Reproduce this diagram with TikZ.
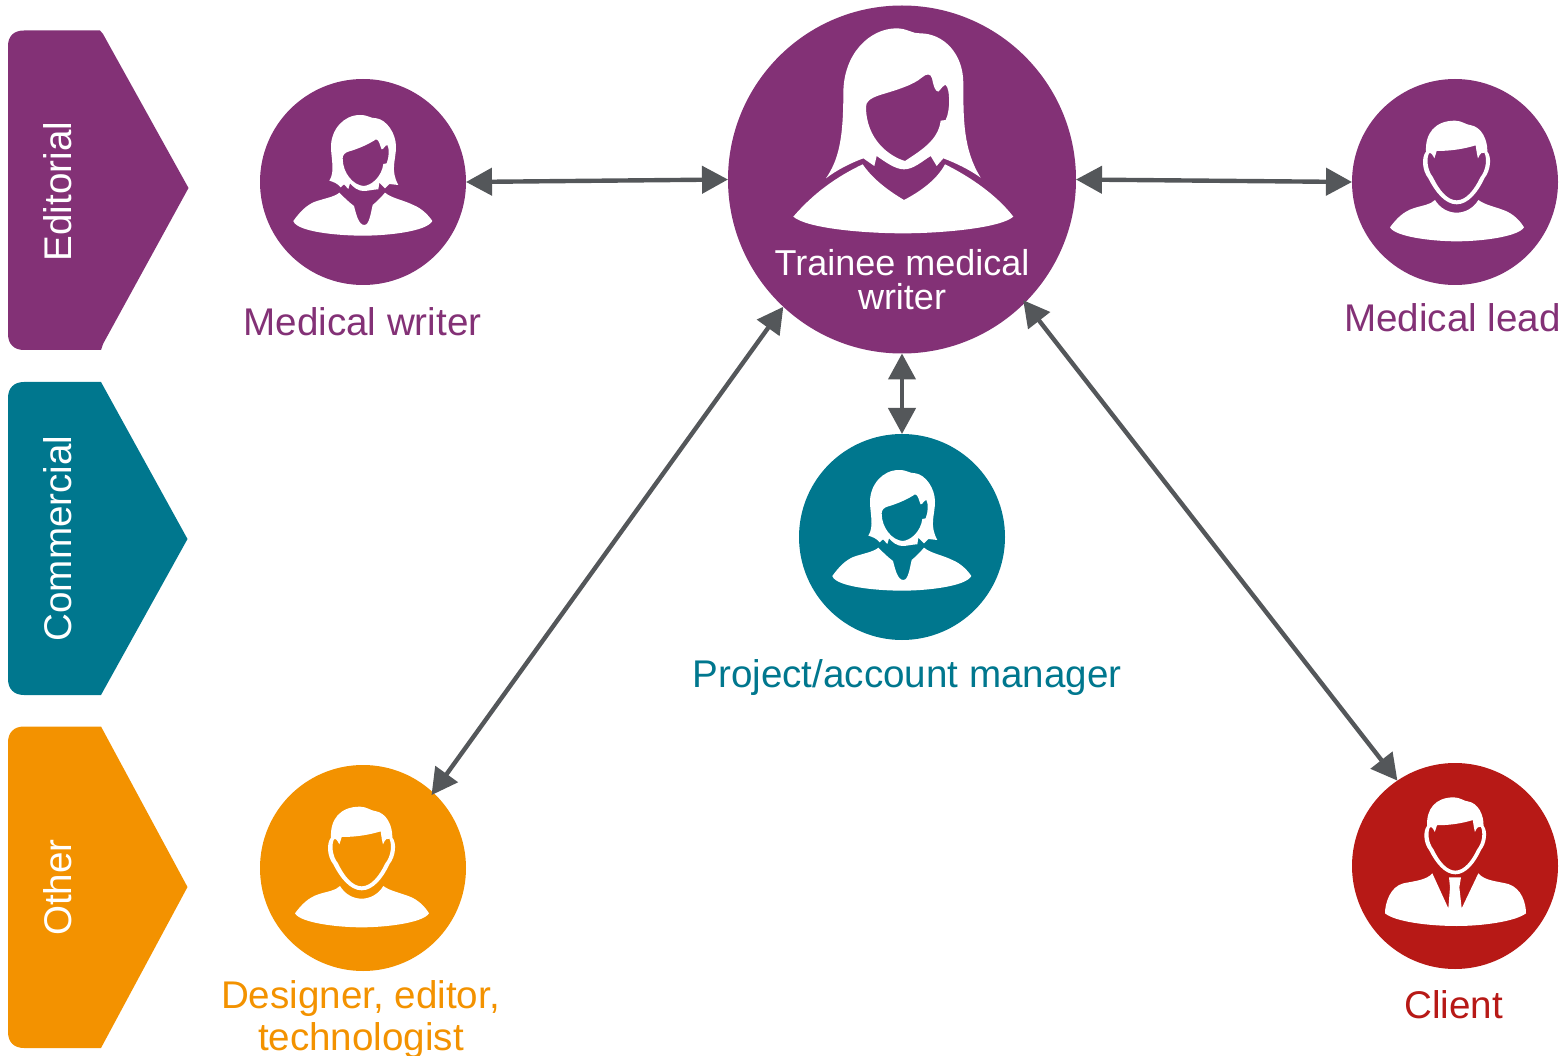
\documentclass[tikz,border=0pt]{standalone}
\usepackage{fontspec}
\setmainfont{Liberation Sans}
\usetikzlibrary{arrows.meta}
\definecolor{cpurple}{HTML}{833176}
\definecolor{cteal}{HTML}{00778E}
\definecolor{corange}{HTML}{F39200}
\definecolor{cred}{HTML}{B71916}
\definecolor{cgray}{HTML}{54575A}
\tikzset{
  person/.style={circle,inner sep=0pt,outer sep=0pt,minimum size=206pt,fill=#1},
  lab/.style={anchor=base,inner sep=0pt,outer sep=0pt,text=#1,font=\fontsize{38.6}{38.6}\selectfont},
  side/.style={anchor=base,rotate=90,inner sep=0pt,outer sep=0pt,text=white,font=\fontsize{38.6}{38.6}\selectfont},
  link/.style={cgray,line width=4.4pt,{Triangle[length=26pt,width=27pt]}-{Triangle[length=26pt,width=27pt]}},
  icon/.style={fill=white,even odd rule}
}
% woman with shoulder-length hair, coordinates of a 3x crop
\newcommand{\womansmall}{%
  \fill[icon] (178,272) .. controls (196,245) and (183,205) .. (183,170)
    .. controls (183,120) and (220,75) .. (270,75)
    .. controls (295,75) and (300,85) .. (320,85)
    .. controls (350,90) and (378,130) .. (378,170)
    .. controls (378,210) and (360,240) .. (385,285)
    -- (358,282) -- (345,295) -- (328,278) -- (325,298)
    .. controls (310,298) and (295,303) .. (280,303)
    .. controls (265,303) and (250,292) .. (240,280)
    -- (235,297) -- (222,283) -- (212,292) .. controls (205,282) and (190,275) .. (178,272) -- cycle
    (218,205) .. controls (218,195) and (225,188) .. (235,185)
    .. controls (270,175) and (300,160) .. (318,148)
    .. controls (328,148) and (330,170) .. (335,178)
    .. controls (340,180) and (345,165) .. (352,165)
    .. controls (358,175) and (358,200) .. (350,220)
    -- (340,222)
    .. controls (335,260) and (305,287) .. (280,288)
    .. controls (250,285) and (218,250) .. (218,205) -- cycle;
  \fill[icon] (70,393) .. controls (90,365) and (110,345) .. (135,335)
    .. controls (165,325) and (195,320) .. (208,308)
    .. controls (225,325) and (235,335) .. (252,348)
    .. controls (258,370) and (265,405) .. (283,405)
    .. controls (298,405) and (302,370) .. (308,345)
    .. controls (320,335) and (335,320) .. (345,308)
    .. controls (365,325) and (400,330) .. (430,345)
    .. controls (455,355) and (475,375) .. (487,393)
    .. controls (470,425) and (350,437) .. (280,437)
    .. controls (200,437) and (80,425) .. (70,393) -- cycle;
}
\newcommand{\manhead}{%
  \fill[icon] (183,185) .. controls (180,130) and (210,92) .. (270,92)
    .. controls (290,92) and (305,105) .. (315,105)
    .. controls (350,110) and (368,150) .. (367,185)
    .. controls (380,200) and (378,240) .. (358,265)
    .. controls (340,305) and (310,343) .. (275,343)
    .. controls (240,343) and (210,305) .. (190,265)
    .. controls (170,240) and (170,200) .. (183,185) -- cycle
    (215,183) .. controls (260,183) and (300,176) .. (332,166)
    .. controls (334,180) and (336,195) .. (339,205)
    .. controls (345,190) and (352,185) .. (358,188)
    .. controls (367,205) and (364,240) .. (346,262)
    .. controls (328,300) and (303,331) .. (275,331)
    .. controls (247,331) and (222,300) .. (204,262)
    .. controls (186,240) and (184,205) .. (192,190)
    .. controls (198,186) and (203,195) .. (208,205)
    .. controls (211,197) and (213,190) .. (215,183) -- cycle;
}
\newcommand{\manbody}{%
  \fill[icon] (75,412) .. controls (95,385) and (115,365) .. (145,355)
    .. controls (175,345) and (195,345) .. (210,330)
    .. controls (225,355) and (250,368) .. (275,368)
    .. controls (300,368) and (325,355) .. (340,330)
    .. controls (360,345) and (390,350) .. (420,362)
    .. controls (445,372) and (465,392) .. (477,412)
    .. controls (460,440) and (350,454) .. (275,454)
    .. controls (200,454) and (90,440) .. (75,412) -- cycle;
}
\begin{document}
\begin{tikzpicture}[x=1pt,y=-1pt]
\useasboundingbox (0,0) rectangle (1561,1056);
% side chevrons
\fill[cpurple] (100,30.5) -- (103,34) -- (188.5,188) -- (103,344) -- (101,350) -- (24,350)
   .. controls (14,350) and (8,344) .. (8,334) -- (8,46)
   .. controls (8,36) and (14,30.5) .. (24,30.5) -- cycle;
\fill[cteal] (101,382) -- (187.5,539) -- (101,695) -- (24,695)
   .. controls (14,695) and (8,689) .. (8,679) -- (8,398)
   .. controls (8,388) and (14,382) .. (24,382) -- cycle;
\fill[corange] (101,726.5) -- (187.5,887) -- (101,1048) -- (24,1048)
   .. controls (14,1048) and (8,1042) .. (8,1032) -- (8,742.5)
   .. controls (8,732.5) and (14,726.5) .. (24,726.5) -- cycle;
\node[side] (seditorial) at (71,191.5) {Editorial};
\node[side] (scommercial) at (71,538.5) {Commercial};
\node[side] (sother) at (71,887.5) {Other};
% circles
\node[person=cpurple,minimum size=348pt] (main) at (902,179.5) {};
\node[person=cpurple] (writer) at (363,182) {};
\node[person=cpurple] (lead) at (1455,182) {};
\node[person=cteal] (pm) at (902,537) {};
\node[person=corange] (designer) at (363,868) {};
\node[person=cred] (client) at (1455,866) {};
% connectors
\draw[link] (writer.east) -- (main.west);
\draw[link] (main.east) -- (lead.west);
\draw[link] (main.south) -- (pm.north);
\draw[link,shorten >=-3pt] (main.227) -- (designer.47);
\draw[link,shorten <=-3pt] (main.-45) -- (client.124);
% large woman
\begin{scope}[shift={(780,10)},scale=1/3]
  \fill[icon] (138,505) .. controls (175,450) and (190,390) .. (190,250)
    .. controls (190,130) and (270,55) .. (350,55)
    .. controls (380,55) and (400,72) .. (420,70)
    .. controls (490,70) and (550,130) .. (550,220)
    .. controls (550,330) and (550,420) .. (602,503)
    .. controls (570,480) and (530,460) .. (490,445)
    -- (470,468) -- (452,438)
    .. controls (425,455) and (400,478) .. (372,478)
    .. controls (345,478) and (315,455) .. (290,438)
    -- (283,468) -- (250,445)
    .. controls (210,460) and (170,480) .. (138,505) -- cycle
    (258,290) .. controls (258,275) and (270,265) .. (300,255)
    .. controls (350,240) and (400,225) .. (425,203)
    .. controls (440,190) and (452,190) .. (456,205)
    .. controls (460,225) and (465,245) .. (475,245)
    .. controls (485,235) and (490,225) .. (497,225)
    .. controls (510,235) and (512,300) .. (497,330)
    -- (482,332)
    .. controls (475,390) and (425,420) .. (375,453)
    .. controls (330,440) and (258,390) .. (258,290) -- cycle;
  \fill[icon] (40,620) .. controls (100,550) and (170,500) .. (248,463)
    .. controls (280,510) and (330,545) .. (372,570)
    .. controls (420,545) and (470,510) .. (495,463)
    .. controls (570,500) and (650,555) .. (700,620)
    .. controls (660,655) and (480,670) .. (370,670)
    .. controls (250,670) and (80,655) .. (40,620) -- cycle;
\end{scope}
% small icons
\begin{scope}[shift={(270,90)},scale=1/3]\womansmall\end{scope}
\begin{scope}[shift={(809,445)},scale=1/3]\womansmall\end{scope}
\begin{scope}[shift={(1365,90)},scale=1/3]\manhead\manbody\end{scope}
\begin{scope}[shift={(270,776)},scale=1/3]\manhead\manbody\end{scope}
\begin{scope}[shift={(1365,780)},scale=1/3]
  \begin{scope}[shift={(18,-32.6)},scale=.92]\manhead\end{scope}
  \fill[icon] (60,400) .. controls (60,370) and (75,320) .. (115,310)
    .. controls (150,303) and (185,300) .. (202,280)
    -- (250,385) -- (255,322) -- (252,292) -- (288,292) -- (283,322) -- (290,385) -- (340,280)
    .. controls (360,303) and (395,303) .. (430,312)
    .. controls (470,325) and (483,370) .. (483,400)
    .. controls (450,425) and (350,438) .. (275,438)
    .. controls (190,438) and (90,425) .. (60,400) -- cycle;
\end{scope}
% labels
\node[lab=white,font=\fontsize{36}{36}\selectfont] (t1) at (902,276) {Trainee medical};
\node[lab=white,font=\fontsize{36}{36}\selectfont] (t2) at (902,310) {writer};
\node[lab=cpurple] (lw) at (362.5,336) {Medical writer};
\node[lab=cpurple] (ll) at (1452.5,332) {Medical lead};
\node[lab=cteal] (lp) at (907,687) {Project/account manager};
\node[lab=corange] (ld1) at (360.5,1008) {Designer, editor,};
\node[lab=corange] (ld2) at (361,1050) {technologist};
\node[lab=cred] (lc) at (1453.5,1018) {Client};
\end{tikzpicture}
\end{document}
